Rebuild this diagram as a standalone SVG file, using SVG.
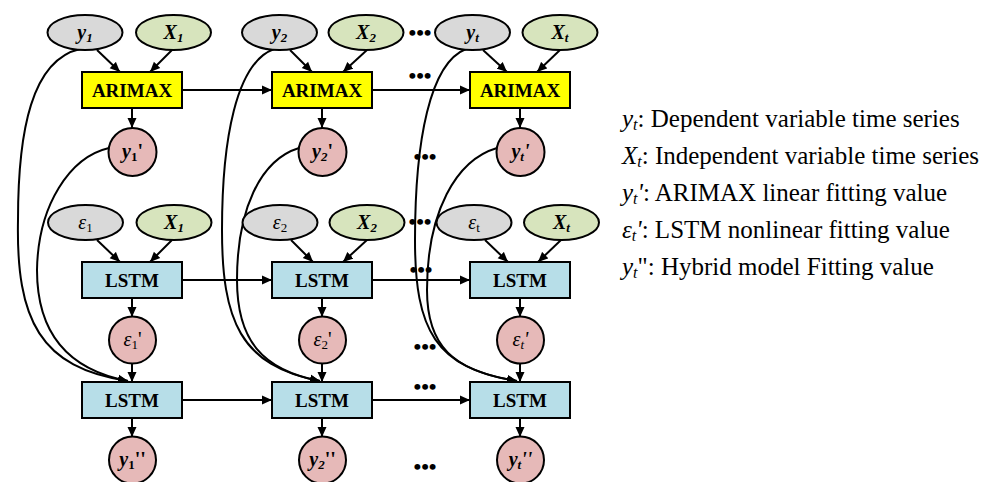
<svg xmlns="http://www.w3.org/2000/svg" width="993" height="482" viewBox="0 0 993 482">
<defs>
<marker id="ah" viewBox="0 0 10 10" refX="10" refY="5" markerWidth="10" markerHeight="10" markerUnits="userSpaceOnUse" orient="auto">
<path d="M0,0.5 L10,5 L0,9.5 Z" fill="#000"/>
</marker>
<style>
.ey{fill:#d9d9d9;stroke:#000;stroke-width:2}
.ex{fill:#d7e4bd;stroke:#000;stroke-width:2}
.ci{fill:#e6b9b8;stroke:#000;stroke-width:2}
.ar{fill:#ffff00;stroke:#000;stroke-width:2}
.ls{fill:#b7dee8;stroke:#000;stroke-width:2}
.t{font-family:"Liberation Serif","Times New Roman",serif;font-size:20px;fill:#000;text-anchor:middle}
.b{font-weight:bold;font-size:19px}
.i{font-style:italic}
.bi{font-style:italic;font-weight:bold}
.s{font-size:13px}
.dots{font-family:"Liberation Serif",serif;font-size:22px;font-weight:bold;text-anchor:middle}
.lg{font-family:"Liberation Serif","Times New Roman",serif;font-size:25px;fill:#000}
#connectors path,#connectors line{fill:none;stroke:#000;stroke-width:2}
</style>
</defs>
<rect width="993" height="482" fill="#fff"/>

<g id="connectors">
<line x1="97" y1="50" x2="120" y2="72" marker-end="url(#ah)"/>
<line x1="172" y1="50" x2="150" y2="72" marker-end="url(#ah)"/>
<line x1="290" y1="50" x2="312" y2="72" marker-end="url(#ah)"/>
<line x1="367" y1="50" x2="343" y2="72" marker-end="url(#ah)"/>
<line x1="483" y1="50" x2="507" y2="72" marker-end="url(#ah)"/>
<line x1="560" y1="50" x2="537" y2="72" marker-end="url(#ah)"/>
<line x1="97" y1="240" x2="120" y2="262" marker-end="url(#ah)"/>
<line x1="172" y1="240" x2="150" y2="262" marker-end="url(#ah)"/>
<line x1="291" y1="240" x2="313" y2="262" marker-end="url(#ah)"/>
<line x1="367" y1="240" x2="343" y2="262" marker-end="url(#ah)"/>
<line x1="485" y1="240" x2="508" y2="262" marker-end="url(#ah)"/>
<line x1="561" y1="240" x2="538" y2="262" marker-end="url(#ah)"/>
<line x1="132" y1="108" x2="132" y2="128" marker-end="url(#ah)"/>
<line x1="322" y1="108" x2="322" y2="128" marker-end="url(#ah)"/>
<line x1="520" y1="108" x2="520" y2="128" marker-end="url(#ah)"/>
<line x1="132" y1="298" x2="132" y2="317" marker-end="url(#ah)"/>
<line x1="322" y1="298" x2="322" y2="317" marker-end="url(#ah)"/>
<line x1="520" y1="298" x2="520" y2="317" marker-end="url(#ah)"/>
<line x1="132" y1="363" x2="132" y2="382" marker-end="url(#ah)"/>
<line x1="322" y1="363" x2="322" y2="382" marker-end="url(#ah)"/>
<line x1="520" y1="363" x2="520" y2="382" marker-end="url(#ah)"/>
<line x1="132" y1="418" x2="132" y2="437" marker-end="url(#ah)"/>
<line x1="322" y1="418" x2="322" y2="437" marker-end="url(#ah)"/>
<line x1="520" y1="418" x2="520" y2="437" marker-end="url(#ah)"/>
<line x1="182" y1="90" x2="272" y2="90" marker-end="url(#ah)"/>
<line x1="372" y1="90" x2="470" y2="90" marker-end="url(#ah)"/>
<line x1="182" y1="280" x2="272" y2="280" marker-end="url(#ah)"/>
<line x1="372" y1="280" x2="470" y2="280" marker-end="url(#ah)"/>
<line x1="182" y1="400" x2="272" y2="400" marker-end="url(#ah)"/>
<line x1="372" y1="400" x2="470" y2="400" marker-end="url(#ah)"/>
<path d="M80,49 C32,60 18,130 18,220 C16,320 40,368 128,381" marker-end="url(#ah)"/>
<path d="M109,148 C70,157 38,205 37,270 C37,335 70,370 128,381" marker-end="url(#ah)"/>
<path d="M274,49 C236,63 222,140 222,230 C222,320 240,366 320,381" marker-end="url(#ah)"/>
<path d="M299,148 C260,160 237,210 237,280 C237,340 262,370 320,381" marker-end="url(#ah)"/>
<path d="M466,49 C430,63 415,140 415,240 C415,330 435,368 517,381" marker-end="url(#ah)"/>
<path d="M497,148 C456,160 427,212 427,290 C427,345 452,371 517,381" marker-end="url(#ah)"/>
</g>

<g id="n_y1"><ellipse class="ey" cx="85" cy="32.5" rx="37.5" ry="17.5"/><text class="t" x="85" y="39"><tspan class="bi">y</tspan><tspan class="s bi" dy="3">1</tspan></text></g>
<g id="n_X1"><ellipse class="ex" cx="173.5" cy="32.5" rx="37.5" ry="17.5"/><text class="t" x="173.5" y="39"><tspan class="bi">X</tspan><tspan class="s bi" dy="3">1</tspan></text></g>
<g id="n_y2"><ellipse class="ey" cx="279.5" cy="32.5" rx="37.5" ry="17.5"/><text class="t" x="279.5" y="39"><tspan class="bi">y</tspan><tspan class="s bi" dy="3">2</tspan></text></g>
<g id="n_X2"><ellipse class="ex" cx="366" cy="32.5" rx="37.5" ry="17.5"/><text class="t" x="366" y="39"><tspan class="bi">X</tspan><tspan class="s bi" dy="3">2</tspan></text></g>
<g id="n_yt"><ellipse class="ey" cx="472.5" cy="32.5" rx="37.5" ry="17.5"/><text class="t" x="472.5" y="39"><tspan class="bi">y</tspan><tspan class="s bi" dy="3">t</tspan></text></g>
<g id="n_Xt"><ellipse class="ex" cx="560" cy="32.5" rx="37.5" ry="17.5"/><text class="t" x="560" y="39"><tspan class="bi">X</tspan><tspan class="s bi" dy="3">t</tspan></text></g>

<g id="n_arimax1"><rect class="ar" x="82" y="72" width="100" height="36"/><text class="t b" x="132" y="97">ARIMAX</text></g>
<g id="n_arimax2"><rect class="ar" x="272" y="72" width="100" height="36"/><text class="t b" x="322" y="97">ARIMAX</text></g>
<g id="n_arimax3"><rect class="ar" x="470" y="72" width="100" height="36"/><text class="t b" x="520" y="97">ARIMAX</text></g>

<g id="n_y1p"><circle class="ci" cx="132.5" cy="152" r="24"/><text class="t" x="132.5" y="158"><tspan class="bi">y</tspan><tspan class="s" font-weight="bold" dy="3">1</tspan><tspan font-weight="bold" dy="-3">'</tspan></text></g>
<g id="n_y2p"><circle class="ci" cx="322.5" cy="152" r="24"/><text class="t" x="322.5" y="158"><tspan class="bi">y</tspan><tspan class="s bi" dy="3">2</tspan><tspan font-weight="bold" dy="-3">'</tspan></text></g>
<g id="n_ytp"><circle class="ci" cx="520.5" cy="152" r="24"/><text class="t" x="520.5" y="158"><tspan class="bi">y</tspan><tspan class="s bi" dy="3">t</tspan><tspan class="bi" dy="-3">'</tspan></text></g>

<g id="n_e1"><ellipse class="ey" cx="85.5" cy="222.5" rx="37.5" ry="17.5"/><text class="t" x="85.5" y="229"><tspan class="i">ε</tspan><tspan class="s" dy="3">1</tspan></text></g>
<g id="n_X1b"><ellipse class="ex" cx="174" cy="222.5" rx="37.5" ry="17.5"/><text class="t" x="174" y="229"><tspan class="bi">X</tspan><tspan class="s bi" dy="3">1</tspan></text></g>
<g id="n_e2"><ellipse class="ey" cx="280" cy="222.5" rx="37.5" ry="17.5"/><text class="t" x="280" y="229"><tspan class="i">ε</tspan><tspan class="s" dy="3">2</tspan></text></g>
<g id="n_X2b"><ellipse class="ex" cx="367" cy="222.5" rx="37.5" ry="17.5"/><text class="t" x="367" y="229"><tspan class="bi">X</tspan><tspan class="s bi" dy="3">2</tspan></text></g>
<g id="n_et"><ellipse class="ey" cx="474" cy="222.5" rx="37.5" ry="17.5"/><text class="t" x="474" y="229"><tspan class="i">ε</tspan><tspan class="s" dy="3">t</tspan></text></g>
<g id="n_Xtb"><ellipse class="ex" cx="561.5" cy="222.5" rx="37.5" ry="17.5"/><text class="t" x="561.5" y="229"><tspan class="bi">X</tspan><tspan class="s bi" dy="3">t</tspan></text></g>

<g id="n_lstm1"><rect class="ls" x="82" y="262" width="100" height="36"/><text class="t b" x="132" y="287">LSTM</text></g>
<g id="n_lstm2"><rect class="ls" x="272" y="262" width="100" height="36"/><text class="t b" x="322" y="287">LSTM</text></g>
<g id="n_lstm3"><rect class="ls" x="470" y="262" width="100" height="36"/><text class="t b" x="520" y="287">LSTM</text></g>

<g id="n_e1p"><circle class="ci" cx="132.5" cy="340" r="23.5"/><text class="t" x="132.5" y="346"><tspan class="i">ε</tspan><tspan class="s" dy="3">1</tspan><tspan dy="-3">'</tspan></text></g>
<g id="n_e2p"><circle class="ci" cx="322.5" cy="340" r="23.5"/><text class="t" x="322.5" y="346"><tspan class="i">ε</tspan><tspan class="s" dy="3">2</tspan><tspan dy="-3">'</tspan></text></g>
<g id="n_etp"><circle class="ci" cx="520.5" cy="340" r="23.5"/><text class="t" x="520.5" y="346"><tspan class="i">ε</tspan><tspan class="s i" dy="3">t</tspan><tspan class="i" dy="-3">'</tspan></text></g>

<g id="n_lstm4"><rect class="ls" x="82" y="382" width="100" height="36"/><text class="t b" x="132" y="407">LSTM</text></g>
<g id="n_lstm5"><rect class="ls" x="272" y="382" width="100" height="36"/><text class="t b" x="322" y="407">LSTM</text></g>
<g id="n_lstm6"><rect class="ls" x="470" y="382" width="100" height="36"/><text class="t b" x="520" y="407">LSTM</text></g>

<g id="n_y1pp"><circle class="ci" cx="132.5" cy="460" r="23.5"/><text class="t" x="132.5" y="466"><tspan class="bi">y</tspan><tspan class="s" font-weight="bold" dy="3">1</tspan><tspan font-weight="bold" dy="-3">''</tspan></text></g>
<g id="n_y2pp"><circle class="ci" cx="322.5" cy="460" r="23.5"/><text class="t" x="322.5" y="466"><tspan class="bi">y</tspan><tspan class="s bi" dy="3">2</tspan><tspan font-weight="bold" dy="-3">''</tspan></text></g>
<g id="n_ytpp"><circle class="ci" cx="520.5" cy="460" r="23.5"/><text class="t" x="520.5" y="466"><tspan class="bi">y</tspan><tspan class="s bi" dy="3">t</tspan><tspan class="bi" dy="-3">''</tspan></text></g>

<g id="dots">
<text class="dots" x="420" y="40">•••</text>
<text class="dots" x="420" y="83">•••</text>
<text class="dots" x="425" y="164">•••</text>
<text class="dots" x="420" y="229">•••</text>
<text class="dots" x="421" y="277">•••</text>
<text class="dots" x="425" y="354">•••</text>
<text class="dots" x="425" y="394">•••</text>
<text class="dots" x="425" y="474">•••</text>
</g>

<g id="legend">
<text class="lg" x="622" y="127"><tspan font-style="italic">y</tspan><tspan font-style="italic" font-size="16" dy="3">t</tspan><tspan dy="-3">: Dependent variable time series</tspan></text>
<text class="lg" x="622" y="164"><tspan font-style="italic">X</tspan><tspan font-style="italic" font-size="16" dy="3">t</tspan><tspan dy="-3">: Independent variable time series</tspan></text>
<text class="lg" x="622" y="201"><tspan font-style="italic">y</tspan><tspan font-style="italic" font-size="16" dy="3">t</tspan><tspan font-style="italic" dy="-3">'</tspan><tspan>: ARIMAX linear fitting value</tspan></text>
<text class="lg" x="622" y="238"><tspan font-style="italic">ε</tspan><tspan font-style="italic" font-size="16" dy="3">t</tspan><tspan font-style="italic" dy="-3">'</tspan><tspan>: LSTM nonlinear fitting value</tspan></text>
<text class="lg" x="622" y="275"><tspan font-style="italic">y</tspan><tspan font-style="italic" font-size="16" dy="3">t</tspan><tspan dy="-3">": Hybrid model Fitting value</tspan></text>
</g>
</svg>
